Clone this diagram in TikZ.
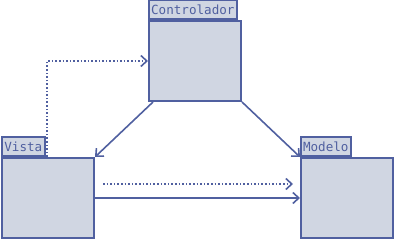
\documentclass[tikz,border=0pt]{standalone}
\usepackage{fontspec}
\setmonofont{DejaVu Sans Mono}
\usetikzlibrary{arrows.meta}
\usetikzlibrary{positioning}
\usepackage{xcolor}

\definecolor{linea}{HTML}{5060A0}
\definecolor{relleno}{HTML}{D0D6E2}

\tikzset{
  caja/.style={draw=linea, fill=relleno, line width=2pt, anchor=north west, inner sep=0pt},
  pestana/.style={draw=linea, fill=relleno, line width=1.6pt, anchor=south west, inner sep=0pt,
    font=\ttfamily\fontsize{12.6}{14}\selectfont, text=linea, minimum height=19pt},
  flecha/.style={draw=linea, line width=1.6pt, -{Straight Barb[length=6pt,width=11pt]}},
  punteada/.style={flecha, dotted}
}

\begin{document}
\begin{tikzpicture}[x=1pt,y=-1pt]
\useasboundingbox (0,0) rectangle (395,240);
% paquetes
\node[caja, minimum width=92pt, minimum height=80pt] (ctrl) at (148,20) {};
\node[pestana, minimum width=88pt] (ctrlt) at (ctrl.north west) {Controlador};
\node[caja, minimum width=92pt, minimum height=80pt] (vista) at (1,157) {};
\node[pestana, minimum width=43pt] (vistat) at (vista.north west) {Vista};
\node[caja, minimum width=92pt, minimum height=80pt] (modelo) at (300,157) {};
\node[pestana, minimum width=50pt] (modelot) at (modelo.north west) {Modelo};
% relaciones
\coordinate (esq) at (47,61);
\draw[flecha] ([xshift=5pt]ctrl.south west) -- (vista.north east);
\draw[flecha] (ctrl.south east) -- (modelo.north west);
\draw[punteada] (vista.north west -| esq) -- (esq) -- (ctrl.west |- esq);
\draw[punteada] ([xshift=8pt,yshift=-27pt]vista.north east) -- ([xshift=-7pt,yshift=-27pt]modelo.north west);
\draw[flecha] ([yshift=-41pt]vista.north east) -- ([yshift=-41pt]modelo.north west);
\end{tikzpicture}
\end{document}
